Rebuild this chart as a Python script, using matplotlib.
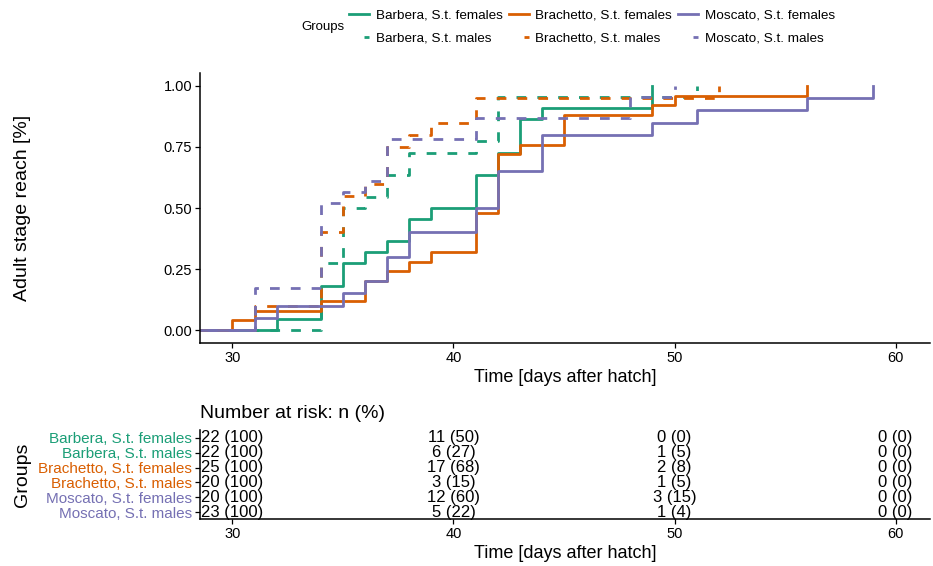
import numpy as np
import matplotlib.pyplot as plt
from matplotlib.lines import Line2D

plt.rcParams['font.family'] = ['Liberation Sans', 'DejaVu Sans']

#===================================================================================
#                           data
#===================================================================================
groups = ['Barbera, S.t. females', 'Barbera, S.t. males',
          'Brachetto, S.t. females', 'Brachetto, S.t. males',
          'Moscato, S.t. females', 'Moscato, S.t. males']
colors = ['#1B9E77', '#1B9E77', '#D95F02', '#D95F02', '#7570B3', '#7570B3']
n_total = [22, 22, 25, 20, 20, 23]

# day of adult emergence and number of adults emerging that day
bf_days  = [32, 34, 35, 36, 37, 38, 39, 41, 42, 43, 44, 49]
bf_count = [ 1,  3,  2,  1,  1,  2,  1,  3,  2,  3,  1,  2]
bm_days  = [34, 35, 36, 37, 38, 41, 42, 51]
bm_count = [ 6,  5,  1,  2,  2,  1,  4,  1]
rf_days  = [30, 31, 34, 36, 37, 38, 39, 41, 42, 43, 45, 49, 50, 56]
rf_count = [ 1,  1,  1,  2,  1,  1,  1,  4,  6,  1,  3,  1,  1,  1]
rm_days  = [31, 34, 35, 36, 37, 38, 39, 41, 52]
rm_count = [ 2,  6,  3,  1,  3,  1,  1,  2,  1]
mf_days  = [31, 32, 35, 36, 37, 38, 41, 42, 44, 49, 51, 56, 59]
mf_count = [ 1,  1,  1,  1,  2,  2,  2,  3,  3,  1,  1,  1,  1]
mm_days  = [31, 34, 35, 36, 37, 41, 48, 50]
mm_count = [ 4,  8,  1,  1,  4,  2,  2,  1]

l_days  = [bf_days, bm_days, rf_days, rm_days, mf_days, mm_days]
l_count = [bf_count, bm_count, rf_count, rm_count, mf_count, mm_count]

# number at risk table
risk_times = [30, 40, 50, 60]
risk_n   = [[22, 11, 0, 0], [22, 6, 1, 0], [25, 17, 2, 0],
            [20, 3, 1, 0], [20, 12, 3, 0], [23, 5, 1, 0]]
risk_pct = [[100, 50, 0, 0], [100, 27, 5, 0], [100, 68, 8, 0],
            [100, 15, 5, 0], [100, 60, 15, 0], [100, 22, 4, 0]]

#===================================================================================
#                              plots
#===================================================================================
fig = plt.figure(figsize=(9.33, 5.66), dpi=100)
ax1 = fig.add_axes([200/933, 1-343/566, 730/933, 270/566])
ax2 = fig.add_axes([200/933, 1-519/566, 730/933, 89/566])

for ax in (ax1, ax2):
    for s in ['top', 'right']:
        ax.spines[s].set_visible(False)
    ax.spines['left'].set_linewidth(1.1)
    ax.spines['bottom'].set_linewidth(1.1)
    ax.tick_params(axis='both', labelsize=10.5, length=3.5, width=0.9, pad=2)

handles = []
for i, grp in enumerate(groups):
    ls = '-' if i % 2 == 0 else (0, (3.5, 4))
    a_t = np.concatenate(([0], l_days[i]))
    a_y = np.concatenate(([0], np.cumsum(l_count[i]) / n_total[i]))
    ax1.step(a_t, a_y, where='post', color=colors[i], lw=2, linestyle=ls)
    # legend symbol: one short dash centred for the males
    ls_leg = '-' if i % 2 == 0 else (5.6, (3.0, 8))
    handles.append(Line2D([], [], color=colors[i], lw=2, linestyle=ls_leg, label=grp))

ax1.set_xlim(28.53, 61.56)
ax1.set_ylim(-0.053, 1.053)
ax1.set_xticks([30, 40, 50, 60])
ax1.set_yticks([0, 0.25, 0.5, 0.75, 1])
ax1.set_yticklabels(['0.00', '0.25', '0.50', '0.75', '1.00'])
ax1.set_xlabel('Time [days after hatch]', fontsize=13, labelpad=3)
ax1.set_ylabel('Adult stage reach [%]', fontsize=14)
ax1.yaxis.set_label_coords(-0.232, 0.5)

fig.legend(handles=handles, ncol=3, loc='center', bbox_to_anchor=(592/933, 1-27/566),
           frameon=False, fontsize=9.7, handlelength=1.5, columnspacing=0.45,
           handletextpad=0.5, labelspacing=0.75)
fig.text(323/933, 1-27/566, 'Groups', fontsize=9.5, ha='center', va='center')

# risk table
n_g = len(groups)
for i in range(n_g):
    row = n_g - i
    for j, t in enumerate(risk_times):
        ax2.text(t, row, '%d (%d)' % (risk_n[i][j], risk_pct[i][j]),
                 ha='center', va='center', fontsize=12)
ax2.set_xlim(28.53, 61.56)
ax2.set_ylim(0.53, 6.54)
ax2.set_xticks([30, 40, 50, 60])
ax2.set_yticks(range(n_g, 0, -1))
ax2.set_yticklabels(groups, fontsize=11)
for lab, c in zip(ax2.get_yticklabels(), colors):
    lab.set_color(c)
ax2.set_xlabel('Time [days after hatch]', fontsize=13, labelpad=3)
ax2.set_ylabel('Groups', fontsize=14)
ax2.yaxis.set_label_coords(-0.232, 0.5)
ax2.set_title('Number at risk: n (%)', loc='left', fontsize=14, pad=9)

fig.savefig('out.png', dpi=100)
